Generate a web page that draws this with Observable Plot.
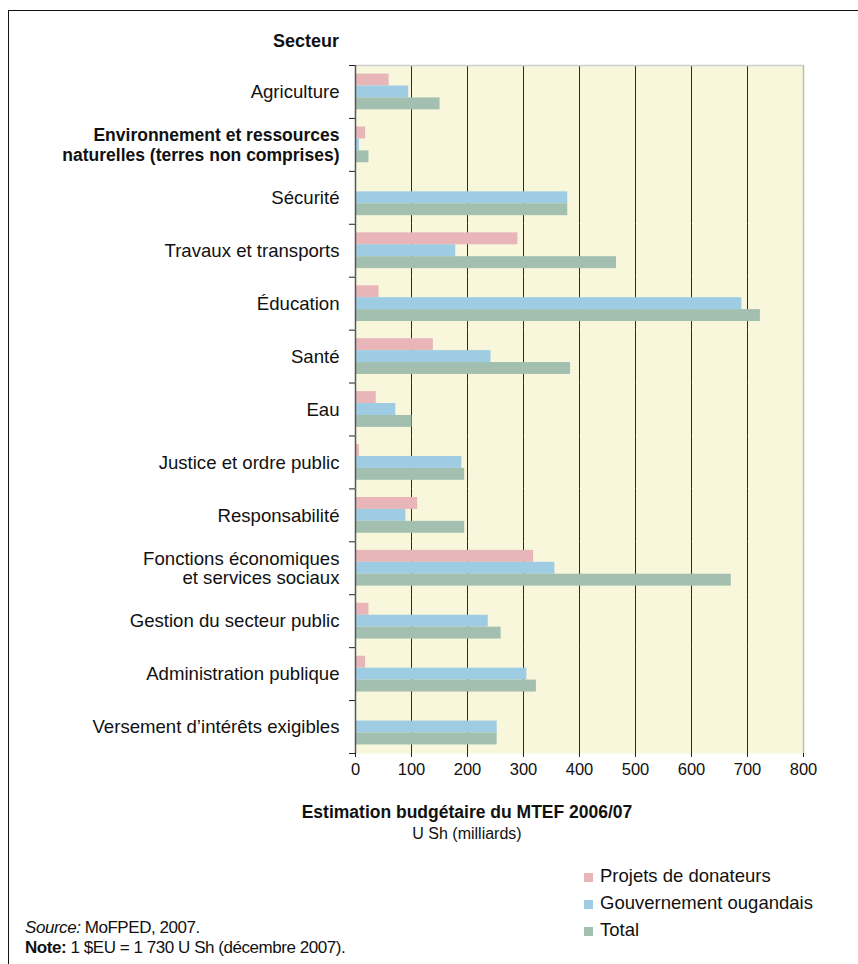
<!DOCTYPE html>
<html>
<head>
<meta charset="utf-8">
<script src="https://cdn.jsdelivr.net/npm/d3@7"></script>
<script src="https://cdn.jsdelivr.net/npm/@observablehq/plot@0.6"></script>
<style>
  body { margin: 0; background: #fff; font-family: "Liberation Sans", Arial, Helvetica, sans-serif; color: #111; }
  #page { position: relative; width: 858px; height: 964px; overflow: hidden; }
  #border { position: absolute; left: 8px; top: 10px; right: -20px; bottom: -20px; border-top: 1.5px solid #111; border-left: 1.5px solid #111; }
  #chart { position: absolute; left: 0; top: 0; }
  #secteur { position: absolute; top: 31px; right: 519px; font-weight: bold; font-size: 18px; }
  #xtitle { position: absolute; left: 267px; width: 400px; top: 802px; text-align: center; font-size: 16px; line-height: 21px; }
  #xtitle b { font-size: 17.5px; }
  #legend { position: absolute; left: 584px; top: 864px; font-size: 18.5px; }
  #legend .row { height: 27px; line-height: 24px; white-space: nowrap; }
  #legend .sw { display: inline-block; width: 9px; height: 9px; margin-right: 7px; vertical-align: 0px; }
  #source { position: absolute; left: 25px; top: 918px; font-size: 17px; line-height: 20px; letter-spacing: -0.45px; }
</style>
</head>
<body>
<div id="page">
  <div id="border"></div>
  <div id="chart"></div>
  <div id="secteur">Secteur</div>
  <div id="xtitle"><b>Estimation budgétaire du MTEF 2006/07</b><br>U Sh (milliards)</div>
  <div id="legend"></div>
  <div id="source"><i>Source:</i> MoFPED, 2007.<br><b>Note:</b> 1 $EU = 1 730 U Sh (décembre 2007).</div>
</div>
<script>
const sectors = [
  "Agriculture",
  "Environnement et ressources\nnaturelles (terres non comprises)",
  "Sécurité",
  "Travaux et transports",
  "Éducation",
  "Santé",
  "Eau",
  "Justice et ordre public",
  "Responsabilité",
  "Fonctions économiques\net services sociaux",
  "Gestion du secteur public",
  "Administration publique",
  "Versement d’intérêts exigibles"
];
const boldSectors = ["Environnement et ressources\nnaturelles (terres non comprises)"];
const series = ["Projets de donateurs", "Gouvernement ougandais", "Total"];
const donateurs    = [60, 18,   0, 290,  42, 139,  37,   7, 111, 318,  24,  18,   0];
const gouvernement = [95,  7, 379, 179, 690, 242,  72, 190,  90, 356, 237, 306, 253];
const total        = [151, 24, 379, 466, 723, 384, 101, 195, 195, 671, 260, 323, 253];
const colors = ["#e8b5b9", "#9dcce3", "#a3bfb0"];
const xTicks = [0, 100, 200, 300, 400, 500, 600, 700, 800];
const gridTicks = [100, 200, 300, 400, 500, 600, 700];

const valuesBySeries = [donateurs, gouvernement, total];
const rows = sectors.flatMap((s, i) => series.map((k, j) => ({sector: s, series: k, value: valuesBySeries[j][i]})));
const labelRows = sectors.map(s => ({sector: s}));

const marginTop = 65, marginBottom = 30, height = 783;
const halfStep = (height - marginTop - marginBottom) / sectors.length / 2;

const chart = Plot.plot({
  width: 858,
  height,
  marginLeft: 355,
  marginRight: 55,
  marginTop,
  marginBottom,
  style: {fontFamily: '"Liberation Sans", Arial, Helvetica, sans-serif', fontSize: "16px", color: "#111", background: "transparent"},
  x: {domain: [0, 800], axis: null},
  y: {domain: series, paddingInner: 0, paddingOuter: 0.72, round: false, axis: null},
  fy: {domain: sectors, padding: 0, round: false, axis: null},
  color: {domain: series, range: colors},
  marks: [
    Plot.frame({facet: "super", fill: "#f8f7dc", stroke: "none"}),
    Plot.gridX({ticks: gridTicks, stroke: "#2b2b2b", strokeOpacity: 1, strokeWidth: 1}),
    Plot.ruleX([800], {stroke: "#bdbdb5", strokeWidth: 1.5}),
    Plot.barX(rows, {fy: "sector", y: "series", x: "value", fill: "series"}),
    Plot.frame({facet: "super", anchor: "top", stroke: "#cfcfcf", strokeWidth: 1.5}),
    Plot.ruleX([0], {stroke: "#555", strokeWidth: 1.5}),
    Plot.axisFy({anchor: "left", tickSize: 6, tickFormat: () => "", label: null, dy: -halfStep, stroke: "#222"}),
    Plot.axisFy({anchor: "left", ticks: [sectors[sectors.length - 1]], tickSize: 6, tickFormat: () => "", label: null, dy: halfStep, stroke: "#222"}),
    Plot.axisX({ticks: xTicks, tickSize: 4, tickPadding: 6, fontSize: 16.5, label: null, stroke: "#222"}),
    Plot.text(labelRows.filter(d => !boldSectors.includes(d.sector)), {fy: "sector", text: "sector", frameAnchor: "left", textAnchor: "end", dx: -16, fontSize: 18.6, lineHeight: 1.05, fill: "#111"}),
    Plot.text(labelRows.filter(d => boldSectors.includes(d.sector)), {fy: "sector", text: "sector", frameAnchor: "left", textAnchor: "end", dx: -16, fontSize: 17.5, fontWeight: "bold", lineHeight: 1.1, fill: "#111"})
  ]
});
document.getElementById("chart").appendChild(chart);

const legend = document.getElementById("legend");
series.forEach((s, i) => {
  const row = document.createElement("div");
  row.className = "row";
  row.innerHTML = `<span class="sw" style="background:${colors[i]}"></span>${s}`;
  legend.appendChild(row);
});
</script>
</body>
</html>
